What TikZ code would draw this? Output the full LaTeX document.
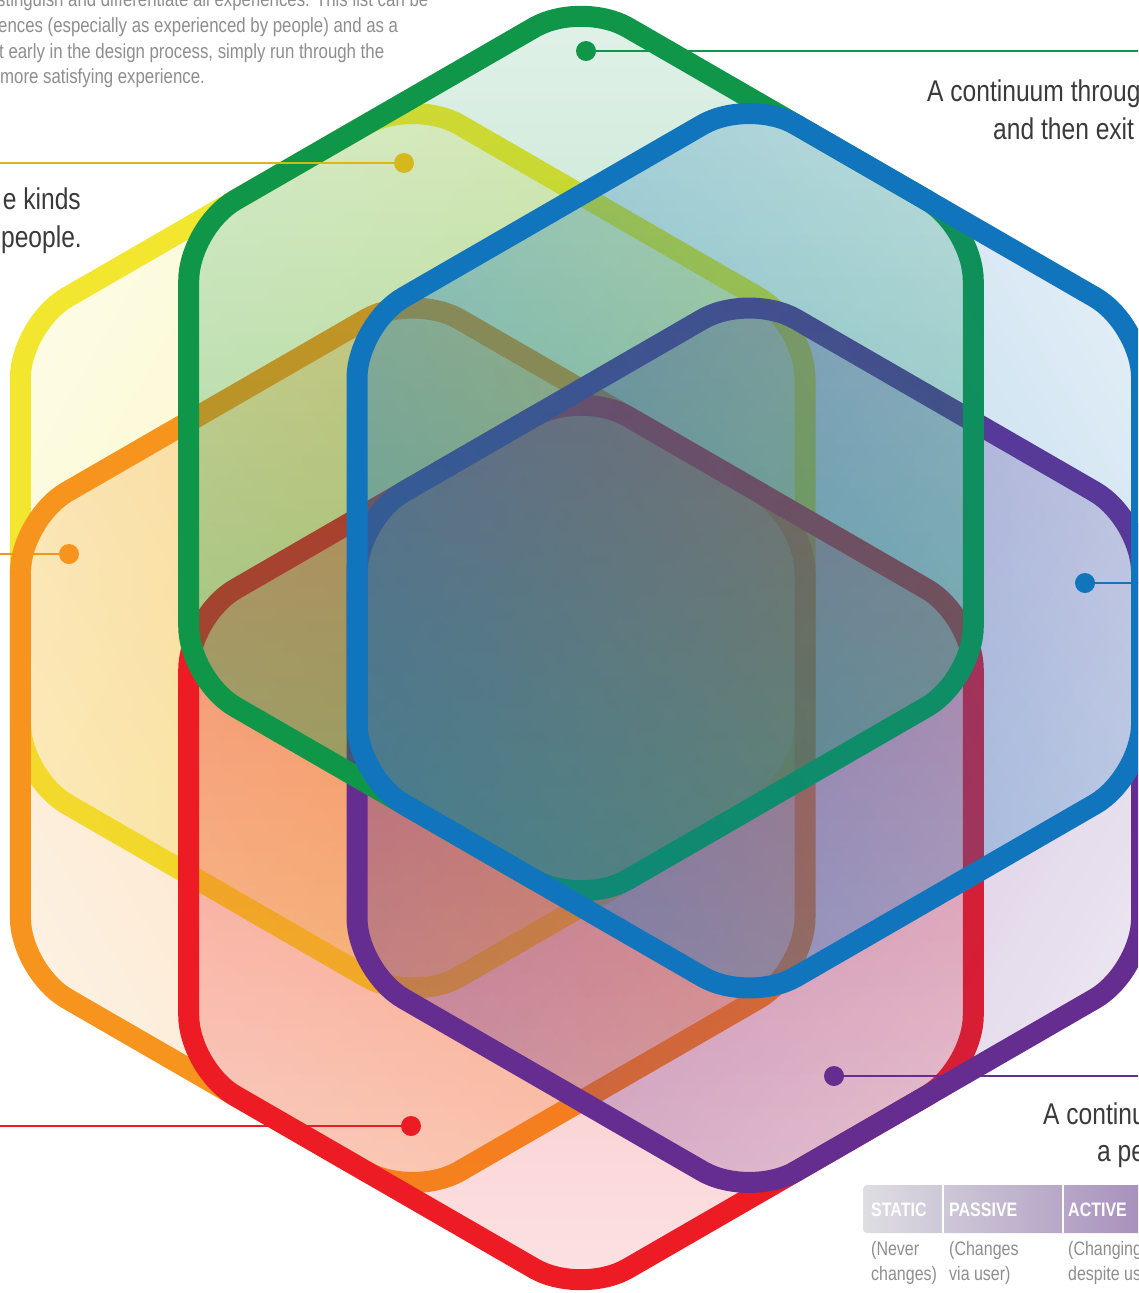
\documentclass[tikz,border=0pt]{standalone}
\usepackage{fontspec}
\setmainfont{Liberation Sans}[FakeStretch=0.82]
\usetikzlibrary{fadings}
\definecolor{cgreen}{HTML}{0F9648}
\definecolor{cyellow}{HTML}{F2E72E}
\definecolor{cgold}{HTML}{D6B81E}
\definecolor{corange}{HTML}{F7941D}
\definecolor{cred}{HTML}{ED1C24}
\definecolor{cpurple}{HTML}{662D91}
\definecolor{cblue}{HTML}{1175BE}
\definecolor{tdark}{HTML}{3A3A3A}
\definecolor{tlight}{HTML}{8E8E8E}
\definecolor{barleft}{HTML}{DEDEE2}
\definecolor{barright}{HTML}{A48BBA}
\tikzfading[name=hexfade, top color=transparent!88, bottom color=transparent!56]
\newcommand\hexa[4]{%
  \fill[#3, path fading=hexfade, fit fading=false,
        fading transform={xshift=#1pt, yshift=#2pt, rotate=#4, scale=18},
        rounded corners=54pt]
    ({#1-392.3},{#2}) -- ({#1-392.3},{#2+226.5}) -- ({#1},{#2+453}) -- ({#1+392.3},{#2+226.5})
    -- ({#1+392.3},{#2-226.5}) -- ({#1},{#2-453}) -- ({#1-392.3},{#2-226.5}) -- cycle;
  \draw[#3, line width=21pt, rounded corners=54pt]
    ({#1-392.3},{#2}) -- ({#1-392.3},{#2+226.5}) -- ({#1},{#2+453}) -- ({#1+392.3},{#2+226.5})
    -- ({#1+392.3},{#2-226.5}) -- ({#1},{#2-453}) -- ({#1-392.3},{#2-226.5}) -- cycle;
}
\tikzset{
  leader/.style={line width=2.5pt},
  dotmark/.style={circle, inner sep=0pt, minimum size=20pt},
  para/.style={anchor=base west, inner sep=0pt, text=tlight, font=\fontsize{20.5}{24}\selectfont},
  big/.style={inner sep=0pt, text=tdark, font=\fontsize{30}{36}\selectfont},
  small/.style={anchor=base west, inner sep=0pt, text=tlight, font=\fontsize{19.5}{24}\selectfont},
  barlabel/.style={anchor=base west, inner sep=0pt, text=white, font=\bfseries\fontsize{19.5}{24}\selectfont},
}
\begin{document}
\begin{tikzpicture}[x=1pt,y=1pt]
\useasboundingbox (0,0) rectangle (1138,-1293);
\clip (0,0) rectangle (1138,-1293);
\fill[white] (0,0) rectangle (1138,-1293);

% hexagons (bottom to top)
\hexa{412.7}{-550.75}{cyellow}{60}
\hexa{412.7}{-745.25}{corange}{120}
\hexa{581}{-842.5}{cred}{180}
\hexa{749.3}{-745.25}{cpurple}{-120}
\hexa{581}{-453.5}{cgreen}{0}
\hexa{749.3}{-550.75}{cblue}{-60}

% leaders
\node[dotmark, fill=cgreen] (gdot) at (586,-51) {};
\coordinate (gend) at (1145,-51);
\draw[leader, cgreen] (gdot.center) -- (gend);
\node[dotmark, fill=cgold] (ydot) at (404,-163) {};
\coordinate (yend) at (-5,-163);
\draw[leader, cgold] (ydot.center) -- (yend);
\node[dotmark, fill=corange] (odot) at (69,-554) {};
\coordinate (oend) at (-5,-554);
\draw[leader, corange] (odot.center) -- (oend);
\node[dotmark, fill=cred] (rdot) at (411,-1126) {};
\coordinate (rend) at (-5,-1126);
\draw[leader, cred] (rdot.center) -- (rend);
\node[dotmark, fill=cpurple] (pdot) at (834,-1076) {};
\coordinate (pend) at (1145,-1076);
\draw[leader, cpurple] (pdot.center) -- (pend);
\node[dotmark, fill=cblue] (bdot) at (1085,-583) {};
\coordinate (bend) at (1145,-583);
\draw[leader, cblue] (bdot.center) -- (bend);

% paragraph top-left
\node[para] (p1) at (-3,-6) {stinguish and differentiate all experiences. This list can be};
\node[para] (p2) at (-2,-32) {ences (especially as experienced by people) and as a};
\node[para] (p3) at (-1,-58) {t early in the design process, simply run through the};
\node[para] (p4) at (0,-83) {more satisfying experience.};

% big texts
\node[big, anchor=base west] (t1) at (927,-101) {A continuum through};
\node[big, anchor=base west] (t2) at (993,-139) {and then exit};
\node[big, anchor=base east] (t3) at (81,-209) {e kinds};
\node[big, anchor=base east] (t4) at (82,-247) {people.};
\node[big, anchor=base west] (t5) at (1043,-1124) {A continuum};
\node[big, anchor=base west] (t6) at (1097,-1161) {a person};

% bar
\shade[left color=barleft, right color=barright, rounded corners=4pt]
  (863,-1185) rectangle (1160,-1233);
\draw[white, line width=2pt] (943,-1185) -- (943,-1233);
\draw[white, line width=2pt] (1063,-1185) -- (1063,-1233);
\node[barlabel] (s1) at (871,-1216) {STATIC};
\node[barlabel] (s2) at (949,-1216) {PASSIVE};
\node[barlabel] (s3) at (1068,-1216) {ACTIVE};
\node[small] (n1) at (871,-1255) {(Never};
\node[small] (n2) at (871,-1280) {changes)};
\node[small] (n3) at (949,-1255) {(Changes};
\node[small] (n4) at (949,-1280) {via user)};
\node[small] (n5) at (1068,-1255) {(Changing};
\node[small] (n6) at (1068,-1280) {despite user)};
\end{tikzpicture}
\end{document}
